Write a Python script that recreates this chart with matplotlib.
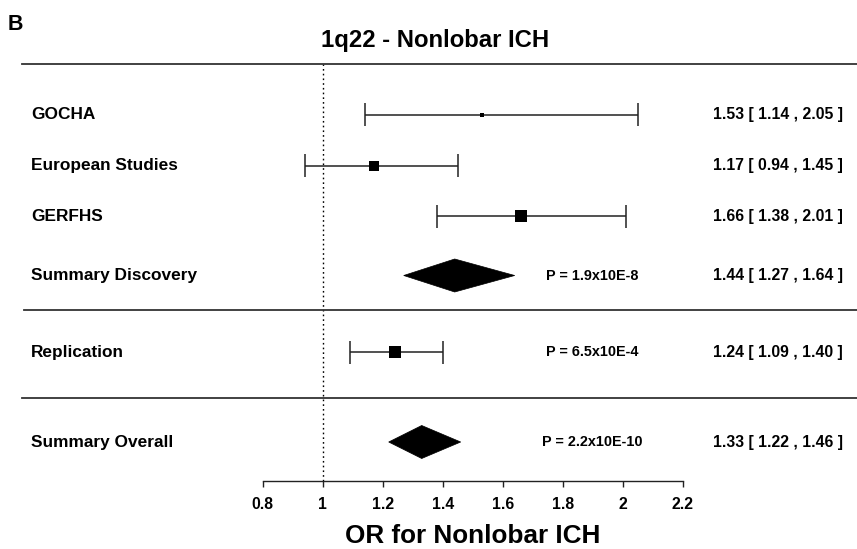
import matplotlib
matplotlib.use("Agg")
import matplotlib.pyplot as plt
from matplotlib.patches import Polygon
from matplotlib.transforms import blended_transform_factory

plt.rcParams['font.family'] = ['Liberation Sans', 'DejaVu Sans']
plt.rcParams['font.weight'] = 'bold'

# ---- data ----
study_labels = ["GOCHA", "European Studies", "GERFHS", "Replication"]
study_or = [1.53, 1.17, 1.66, 1.24]
study_lo = [1.14, 0.94, 1.38, 1.09]
study_hi = [2.05, 1.45, 2.01, 1.40]
study_marker = [2.2, 6.5, 8.0, 8.6]   # marker size (weight)

summary_labels = ["Summary Discovery", "Summary Overall"]
summary_or = [1.44, 1.33]
summary_lo = [1.27, 1.22]
summary_hi = [1.64, 1.46]

p_labels = ["P = 1.9x10E-8", "P = 6.5x10E-4", "P = 2.2x10E-10"]
xticks = [0.8, 1.0, 1.2, 1.4, 1.6, 1.8, 2.0, 2.2]
xtick_labels = ["0.8", "1", "1.2", "1.4", "1.6", "1.8", "2", "2.2"]

# ---- layout (row positions in pixel-like units, top=64, bottom axis=481) ----
study_y = [114.5, 165.5, 216, 352]
summary_y = [275.5, 442]
p_y = [275.5, 352, 442]
sep_y = [64, 310, 397.5]
diamond_h = 16.5
cap_h = 11.5

W, H = 857, 549
fig = plt.figure(figsize=(W / 100, H / 100), dpi=100)
ax = fig.add_axes([262.7 / W, (H - 481) / H, 420 / W, (481 - 64) / H])
ax.set_xlim(0.8, 2.2)
ax.set_ylim(481, 64)

for s in ['top', 'right', 'left']:
    ax.spines[s].set_visible(False)
ax.spines['bottom'].set_color('#222222')
ax.spines['bottom'].set_linewidth(1.0)
ax.set_yticks([])
ax.set_xticks(xticks)
ax.set_xticklabels(xtick_labels, fontsize=11.3, fontweight='bold')
ax.tick_params(axis='x', direction='out', length=4.5, width=1.0, color='#222222', pad=7)

# reference line
ax.axvline(1.0, color='black', lw=1.0, linestyle=(0, (1.2, 2.2)), zorder=1)

# separators
tr = blended_transform_factory(fig.transFigure, ax.transData)
sep_x0 = [22 / W, 24 / W, 22 / W]
for y, x0 in zip(sep_y, sep_x0):
    ax.plot([x0, 1.0], [y, y], color='#333333', lw=1.3, transform=tr, clip_on=False, zorder=2)

# study estimates: CI line, caps, square
for o, lo, hi, y, ms in zip(study_or, study_lo, study_hi, study_y, study_marker):
    ax.hlines(y, lo, hi, color='#222222', lw=1.1, zorder=3)
    ax.vlines([lo, hi], y - cap_h, y + cap_h, color='#222222', lw=1.1, zorder=3)
    ax.plot([o], [y], marker='s', color='black', markersize=ms, markeredgewidth=0,
            linestyle='none', zorder=4)

# summary diamonds
for o, lo, hi, y in zip(summary_or, summary_lo, summary_hi, summary_y):
    ax.add_patch(Polygon([[lo, y], [o, y - diamond_h], [hi, y], [o, y + diamond_h]],
                         closed=True, facecolor='black', edgecolor='black', lw=0.5, zorder=3))

# P-values
for txt, y in zip(p_labels, p_y):
    ax.text(1.9, y, txt, ha='center', va='center', fontsize=10.4, fontweight='bold')

# row labels and value texts
all_labels = study_labels + summary_labels
all_y = study_y + summary_y
all_or = study_or + summary_or
all_lo = study_lo + summary_lo
all_hi = study_hi + summary_hi
for lab, y, o, lo, hi in zip(all_labels, all_y, all_or, all_lo, all_hi):
    ax.text(31 / W, y, lab, transform=tr, ha='left', va='center', fontsize=12.4, fontweight='bold')
    ax.text(713 / W, y, f"{o:.2f} [ {lo:.2f} , {hi:.2f} ]", transform=tr,
            ha='left', va='center', fontsize=11.3, fontweight='bold')

# title, panel letter, x label
fig.text(435 / W, 1 - 40 / H, "1q22 - Nonlobar ICH", ha='center', va='center',
         fontsize=17.2, fontweight='bold')
fig.text(8 / W, 1 - 25 / H, "B", ha='left', va='center', fontsize=15.5, fontweight='bold')
ax.set_xlabel("OR for Nonlobar ICH", fontsize=18.8, fontweight='bold', labelpad=8.5)

fig.savefig("out.png", dpi=100)
